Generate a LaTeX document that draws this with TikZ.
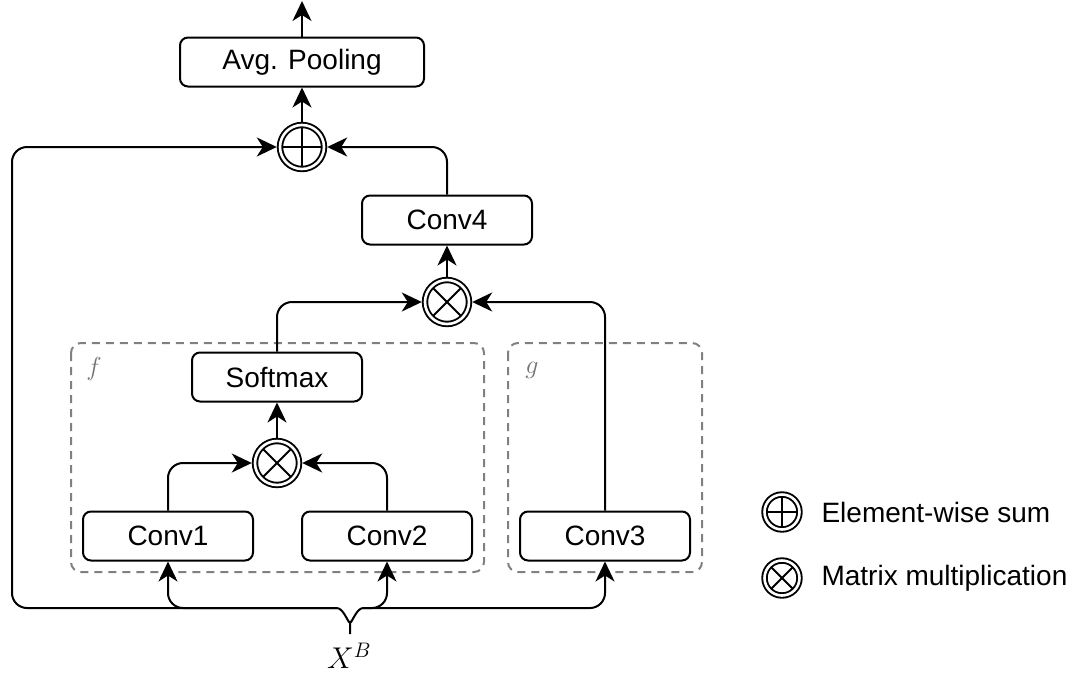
\RequirePackage{fix-cm}
\documentclass[tikz,border=0pt]{standalone}
\usepackage{fontspec}
\setmainfont{Liberation Sans}
\usetikzlibrary{arrows.meta}
\begin{document}
\begin{tikzpicture}[x=1pt,y=-1pt,
  every node/.style={font=\fontsize{28}{34}\selectfont},
  block/.style={draw, line width=2pt, rounded corners=8pt, minimum width=170pt,
    minimum height=49pt, inner sep=0pt},
  opring/.style={circle, draw, line width=1.9pt, double, double distance=2.6pt,
    inner sep=0pt, minimum size=44pt, outer sep=3.2pt},
  opsum/.style={opring, path picture={
      \draw[line width=1.9pt] (path picture bounding box.west) -- (path picture bounding box.east);
      \draw[line width=1.9pt] (path picture bounding box.north) -- (path picture bounding box.south);}},
  opmul/.style={opring, path picture={
      \draw[line width=1.9pt] (path picture bounding box.south west) -- (path picture bounding box.north east);
      \draw[line width=1.9pt] (path picture bounding box.north west) -- (path picture bounding box.south east);}},
  wire/.style={line width=2pt, rounded corners=15pt},
  flow/.style={wire, -{Stealth[length=20pt, width=19pt, inset=6pt]}},
  group/.style={draw=black!50, line width=2pt, dash pattern=on 8pt off 6pt, rounded corners=10pt},
  grouplabel/.style={text=black!55, font=\fontsize{26}{30}\selectfont},
]
\useasboundingbox (0,0) rectangle (1092,675);

% dashed groups f and g
\draw[group] (71,343) rectangle (484,572);
\draw[group] (508,343) rectangle (702,572);
\node[grouplabel] (flab) at (94,369) {$f$};
\node[grouplabel] (glab) at (532,370) {$g$};

% blocks
\node[block, minimum width=244pt] (avg) at (302,62) {Avg. Pooling};
\node[block] (conv4) at (447,220) {Conv4};
\node[block] (soft) at (277,377) {Softmax};
\node[block] (conv1) at (168,536) {Conv1};
\node[block] (conv2) at (387,536) {Conv2};
\node[block] (conv3) at (605,536) {Conv3};

% operators
\node[opsum] (sum) at (302,147) {};
\node[opmul] (mtop) at (447,302) {};
\node[opmul] (mlow) at (277,463) {};

% input and its brace
\node (xb) at (349,656) {\fontsize{30}{34}\selectfont$X^{\mbox{\fontsize{21}{24}\selectfont$B$}}$};
\coordinate (stem) at (350,634);
\coordinate (fork) at (350,621);
\coordinate (bl) at (337,608);
\coordinate (br) at (363,608);
\coordinate (out) at (302,1);

\draw[line width=2pt] (stem) -- (fork) to[out=-90,in=0] (bl);
\draw[line width=2pt] (fork) to[out=-90,in=180] (br);

% connectors
\draw[flow] (bl) -- (12,608) -- (12,147) -- (sum.west);
\draw[flow] (bl) -| (conv1.south);
\draw[flow] (br) -| (conv2.south);
\draw[flow] (br) -| (conv3.south);
\draw[flow] (conv1.north) |- (mlow.west);
\draw[flow] (conv2.north) |- (mlow.east);
\draw[flow] (mlow.north) -- (soft.south);
\draw[flow] (soft.north) |- (mtop.west);
\draw[flow] (conv3.north) |- (mtop.east);
\draw[flow] (mtop.north) -- (conv4.south);
\draw[flow] (conv4.north) |- (sum.east);
\draw[flow] (sum.north) -- (avg.south);
\draw[flow] (avg.north) -- (out);

% legend
\node[opsum, minimum size=35pt] (lsum) at (782,512) {};
\node[opmul, minimum size=35pt] (lmul) at (782,578) {};
\node[anchor=west] (lsumtxt) at (818,512) {Element-wise sum};
\node[anchor=west] (lmultxt) at (818,578) {Matrix multiplication};
\end{tikzpicture}
\end{document}
